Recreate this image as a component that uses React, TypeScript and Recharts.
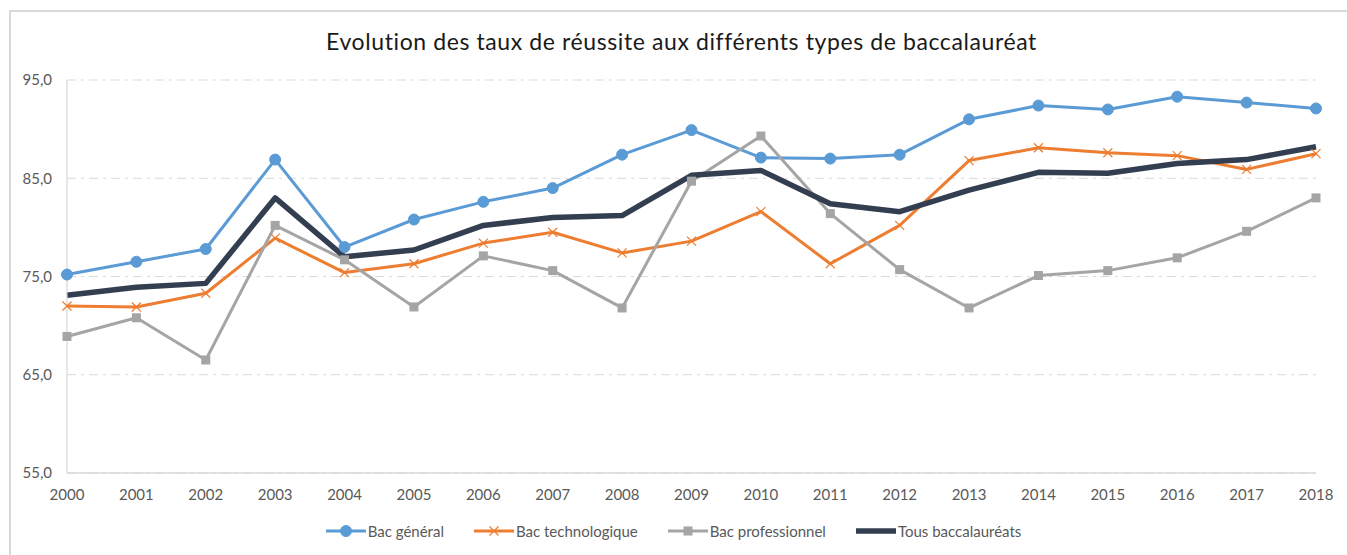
import React from 'react';
import { LineChart, Line, XAxis, YAxis, CartesianGrid } from 'recharts';

// Taux de réussite au baccalauréat, 2000-2018
const years = ['2000', '2001', '2002', '2003', '2004', '2005', '2006', '2007', '2008', '2009',
    '2010', '2011', '2012', '2013', '2014', '2015', '2016', '2017', '2018'];
const bacGeneral = [75.2, 76.5, 77.8, 86.9, 78.0, 80.8, 82.6, 84.0, 87.4, 89.9,
    87.1, 87.0, 87.4, 91.0, 92.4, 92.0, 93.3, 92.7, 92.1];
const bacTechno = [72.0, 71.9, 73.3, 78.9, 75.4, 76.3, 78.4, 79.5, 77.4, 78.6,
    81.6, 76.3, 80.2, 86.8, 88.1, 87.6, 87.3, 85.9, 87.5];
const bacPro = [68.9, 70.8, 66.5, 80.2, 76.7, 71.9, 77.1, 75.6, 71.8, 84.7,
    89.3, 81.4, 75.7, 71.8, 75.1, 75.6, 76.9, 79.6, 83.0];
const tousBac = [73.1, 73.9, 74.3, 83.0, 77.0, 77.7, 80.2, 81.0, 81.2, 85.3,
    85.8, 82.4, 81.6, 83.8, 85.6, 85.5, 86.5, 86.9, 88.2];
const yTicks = [55, 65, 75, 85, 95];

const data = years.map((year, i) => ({
    year,
    general: bacGeneral[i],
    techno: bacTechno[i],
    pro: bacPro[i],
    tous: tousBac[i],
}));

const FONT = 'Lato, "Open Sans", sans-serif';
const TICK_COLOR = '#595959';

const series = [
    { key: 'general', name: 'Bac général', color: '#5B9BD5', width: 3, marker: 'circle' },
    { key: 'techno', name: 'Bac technologique', color: '#ED7D31', width: 3, marker: 'x' },
    { key: 'pro', name: 'Bac professionnel', color: '#A5A5A5', width: 3, marker: 'square' },
    { key: 'tous', name: 'Tous baccalauréats', color: '#333F50', width: 5.5, marker: 'none' },
];

// eslint-disable-next-line @typescript-eslint/no-explicit-any
function Marker({ cx, cy, type, color }: any) {
    if (cx == null || cy == null) return null;
    if (type === 'circle') return <circle cx={cx} cy={cy} r={5.5} fill={color} stroke={color} />;
    if (type === 'square') return <rect x={cx - 4.5} y={cy - 4.5} width={9} height={9} fill={color} />;
    if (type === 'x') {
        return (
            <g stroke={color} strokeWidth={1.2}>
                <line x1={cx - 4.5} y1={cy - 4.5} x2={cx + 4.5} y2={cy + 4.5} />
                <line x1={cx - 4.5} y1={cy + 4.5} x2={cx + 4.5} y2={cy - 4.5} />
            </g>
        );
    }
    return null;
}

function LegendRow() {
    return (
        <div style={{
            position: 'absolute', top: 521, left: 0, width: 1347,
            display: 'flex', justifyContent: 'center', gap: 30,
            fontFamily: FONT, fontSize: 15, color: TICK_COLOR,
        }}>
            {series.map((s) => (
                <div key={s.key} style={{ display: 'flex', alignItems: 'center' }}>
                    <svg width={40} height={20}>
                        <line x1={0} y1={10} x2={40} y2={10} stroke={s.color} strokeWidth={s.width} />
                        <Marker cx={20} cy={10} type={s.marker} color={s.color} />
                    </svg>
                    <span style={{ marginLeft: 2 }}>{s.name}</span>
                </div>
            ))}
        </div>
    );
}

export default function App() {
    return (
        <div style={{ position: 'fixed', left: 0, top: 0, width: 1347, height: 555, background: '#fff', overflow: 'hidden' }}>
            <div style={{
                position: 'absolute', left: 9, top: 10, width: 1400, height: 600,
                border: '2px solid #d9d9d9',
            }} />
            <div style={{
                position: 'absolute', top: 27, left: 0, width: 1363, textAlign: 'center',
                fontFamily: FONT, fontSize: 23, letterSpacing: 0.6, color: '#1a1a1a',
            }}>
                Evolution des taux de réussite aux différents types de baccalauréat
            </div>
            <div style={{ position: 'absolute', left: 0, top: 0 }}>
                <LineChart width={1347} height={555} data={data} margin={{ top: 80, right: 31, left: 0, bottom: 52 }}>
                    <CartesianGrid vertical={false} stroke="#d9d9d9" strokeDasharray="9 5 3 5" />
                    <XAxis
                        dataKey="year"
                        height={30}
                        tickLine={false}
                        tickSize={0}
                        tickMargin={16}
                        axisLine={{ stroke: '#d9d9d9', strokeWidth: 1.5 }}
                        tick={{ fill: TICK_COLOR, fontSize: 15, fontFamily: FONT }}
                        interval={0}
                    />
                    <YAxis
                        width={67}
                        domain={[55, 95]}
                        ticks={yTicks}
                        tickLine={false}
                        tickSize={0}
                        tickMargin={15}
                        axisLine={{ stroke: '#cfcfcf' }}
                        tick={{ fill: TICK_COLOR, fontSize: 15, fontFamily: FONT }}
                        tickFormatter={(v: number) => v.toFixed(1).replace('.', ',')}
                    />
                    {series.map((s) => (
                        <Line
                            key={s.key}
                            type="linear"
                            dataKey={s.key}
                            name={s.name}
                            stroke={s.color}
                            strokeWidth={s.width}
                            strokeLinejoin="round"
                            dot={(p: any) => <Marker key={`${s.key}-${p.index}`} cx={p.cx} cy={p.cy} type={s.marker} color={s.color} />}
                            activeDot={false}
                            isAnimationActive={false}
                        />
                    ))}
                </LineChart>
            </div>
            <LegendRow />
        </div>
    );
}
